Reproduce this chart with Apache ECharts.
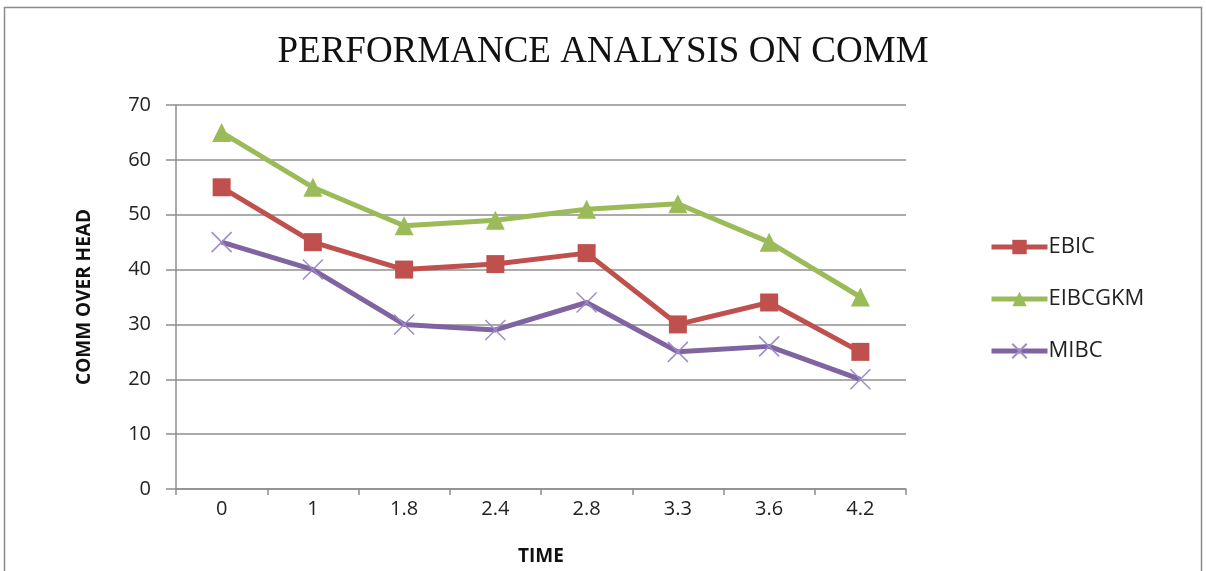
<!DOCTYPE html>
<html>
<head>
<meta charset="utf-8">
<script src="https://cdn.jsdelivr.net/npm/echarts@6/dist/echarts.min.js"></script>
<style>
  html, body { margin: 0; padding: 0; background: #fff; }
  #chart { width: 1206px; height: 571px; }
</style>
</head>
<body>
<div id="chart"></div>
<script>
// Time points on the x axis
const timeLabels = ['0', '1', '1.8', '2.4', '2.8', '3.3', '3.6', '4.2'];

// Communication overhead per protocol
const ebic    = [55, 45, 40, 41, 43, 30, 34, 25];
const eibcgkm = [65, 55, 48, 49, 51, 52, 45, 35];
const mibc    = [45, 40, 30, 29, 34, 25, 26, 20];

const sansFont = '"Open Sans", "Liberation Sans", sans-serif';
const gridGray = '#8f8f8f';

const chart = echarts.init(document.getElementById('chart'), null, { renderer: 'canvas' });

chart.setOption({
  backgroundColor: '#fff',
  animation: false,
  graphic: [
    {
      type: 'rect',
      shape: { x: 4.5, y: 7.5, width: 1197, height: 600 },
      style: { fill: 'none', stroke: '#8a8a8a', lineWidth: 1.5 },
      silent: true
    }
  ],
  title: {
    text: 'PERFORMANCE ANALYSIS ON COMM',
    left: 'center',
    top: 29,
    textStyle: {
      fontFamily: '"Liberation Serif", "DejaVu Serif", serif',
      fontSize: 37,
      fontWeight: 'normal',
      color: '#111'
    }
  },
  grid: { left: 176, right: 300, top: 105, bottom: 80, containLabel: false },
  legend: {
    orient: 'vertical',
    left: 984,
    top: 231,
    itemGap: 30,
    itemWidth: 56,
    itemHeight: 18,
    lineStyle: { width: 5 },
    textStyle: { fontFamily: sansFont, fontSize: 22, color: '#222', padding: [0, 0, 0, -4] },
    data: ['EBIC', 'EIBCGKM', 'MIBC']
  },
  xAxis: {
    type: 'category',
    data: timeLabels,
    boundaryGap: true,
    name: 'TIME',
    nameLocation: 'middle',
    nameGap: 58,
    nameTextStyle: { fontFamily: sansFont, fontSize: 19, fontWeight: 'bold', color: '#111' },
    axisLine: { show: true, lineStyle: { color: gridGray, width: 1.5 } },
    axisTick: { show: true, alignWithLabel: false, length: 6, lineStyle: { color: gridGray, width: 1.5 } },
    axisLabel: { fontFamily: sansFont, fontSize: 20, color: '#222', margin: 10 },
    splitLine: { show: false }
  },
  yAxis: {
    type: 'value',
    min: 0,
    max: 70,
    interval: 10,
    name: 'COMM OVER HEAD',
    nameLocation: 'middle',
    nameGap: 82,
    nameTextStyle: { fontFamily: sansFont, fontSize: 19, fontWeight: 'bold', color: '#111' },
    axisLine: { show: true, lineStyle: { color: gridGray, width: 1.5 } },
    axisTick: { show: true, length: 10, lineStyle: { color: gridGray, width: 1.5 } },
    axisLabel: { fontFamily: sansFont, fontSize: 20, color: '#222', margin: 25 },
    splitLine: { show: true, lineStyle: { color: gridGray, width: 1.5 } }
  },
  series: [
    {
      name: 'EBIC',
      type: 'line',
      data: ebic,
      symbol: 'rect',
      symbolSize: 18,
      color: '#C0504D',
      lineStyle: { width: 5, color: '#C0504D' },
      itemStyle: { color: '#C0504D' }
    },
    {
      name: 'EIBCGKM',
      type: 'line',
      data: eibcgkm,
      symbol: 'triangle',
      symbolSize: 19,
      color: '#9BBB59',
      lineStyle: { width: 5, color: '#9BBB59' },
      itemStyle: { color: '#9BBB59' }
    },
    {
      name: 'MIBC',
      type: 'line',
      data: mibc,
      symbol: 'path://M0,0L10,10M10,0L0,10',
      symbolSize: 20,
      color: '#8064A2',
      lineStyle: { width: 5, color: '#8064A2' },
      itemStyle: { color: 'none', borderColor: '#9d8cc6', borderWidth: 1.5 }
    }
  ]
});
</script>
</body>
</html>
